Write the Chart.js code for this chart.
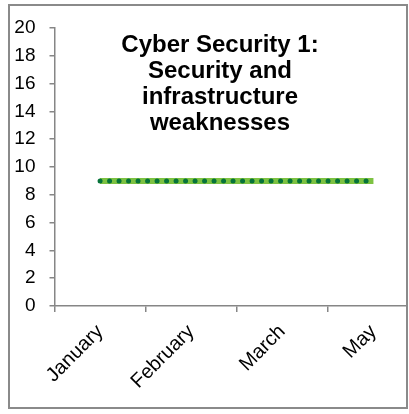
<!DOCTYPE html>
<html>
<head>
<meta charset="utf-8">
<script src="https://cdn.jsdelivr.net/npm/chart.js@4.4.1/dist/chart.umd.min.js"></script>
<style>
  body { margin: 0; background: #fff; overflow: hidden; }
  #frame { position: absolute; left: 8px; top: 4px; width: 396px; height: 401px; border: 2px solid #8a8a8a; overflow: hidden; background: #fff; }
  #myChart { position: absolute; left: -10px; top: -6px; }
</style>
</head>
<body>
<div id="frame"><canvas id="myChart" width="440" height="414"></canvas></div>
<script>
const months = ["January", "February", "March", "May"];
const weaknesses = [9, 9, 9, 9];
const titleLines = ["Cyber Security 1:", "Security and", "infrastructure", "weaknesses"];
const yMax = 20;
const yStep = 2;

Chart.defaults.font.family = "'Liberation Sans', Arial, sans-serif";
Chart.defaults.color = "#000";

// title sits inside the plot area, like the excel original
const innerTitle = {
  id: "innerTitle",
  afterDraw(chart) {
    const ctx = chart.ctx;
    ctx.save();
    ctx.font = "bold 24px 'Liberation Sans', Arial, sans-serif";
    ctx.fillStyle = "#000";
    ctx.textAlign = "center";
    ctx.textBaseline = "middle";
    titleLines.forEach((line, i) => {
      ctx.fillText(line, 220, 45 + i * 26);
    });
    ctx.restore();
  }
};

new Chart(document.getElementById("myChart"), {
  type: "line",
  data: {
    labels: months,
    datasets: [{
      label: "dots",
      data: weaknesses,
      borderColor: "#06733a",
      borderWidth: 5,
      borderDash: [0, 9.5],
      borderCapStyle: "round",
      pointRadius: 0,
      fill: false,
      order: 0
    }, {
      label: "line",
      data: weaknesses,
      borderColor: "#7dc242",
      borderWidth: 6,
      pointRadius: 0,
      fill: false,
      order: 1
    }]
  },
  options: {
    responsive: false,
    animation: false,
    devicePixelRatio: 1,
    layout: { padding: { top: 28, right: 21, left: 0, bottom: 0 } },
    plugins: {
      legend: { display: false },
      tooltip: { enabled: false }
    },
    scales: {
      y: {
        min: 0,
        max: yMax,
        ticks: { stepSize: yStep, padding: 14, font: { size: 19 } },
        grid: { drawOnChartArea: false, tickLength: 5, color: "#868686", lineWidth: 1.5 },
        border: { color: "#868686", width: 1.5 },
        afterFit: (scale) => { scale.width = 54.5; }
      },
      x: {
        offset: true,
        ticks: { minRotation: 45, maxRotation: 45, padding: 8, font: { size: 20 } },
        grid: { offset: true, drawOnChartArea: false, tickLength: 6, color: "#868686", lineWidth: 1.5 },
        border: { color: "#868686", width: 1.5 },
        afterFit: (scale) => { scale.height = 108; }
      }
    }
  },
  plugins: [innerTitle]
});
</script>
</body>
</html>
